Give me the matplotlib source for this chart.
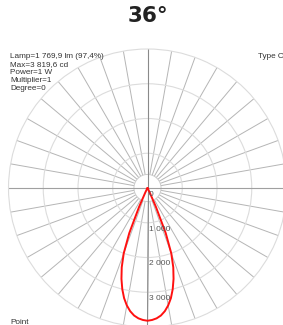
import numpy as np
import matplotlib
matplotlib.use('Agg')
import matplotlib.pyplot as plt

# intensity (cd), symmetric about nadir
angles = [0, 2, 4, 6, 8, 10, 12, 14, 16, 18, 20, 22, 24, 26, 28, 30]
intensity = [3820, 3800, 3760, 3690, 3580, 3430, 3240, 3000, 2720, 2400,
             2000, 1400, 600, 150, 40, 10]
ring_values = [1000, 2000, 3000]
ring_labels = ['0', '1 000', '2 000', '3 000']
info_lines = ['Lamp=1 769,9 lm (97,4%)', 'Max=3 819,6 cd', 'Power=1 W',
              'Multiplier=1', 'Degree=0']
r_max = 4000
hole_r = 390

W, H = 283, 325
fig = plt.figure(figsize=(W / 100, H / 100), dpi=100)

# polar plot centre (px from top-left) and radius of the 4000 cd ring
cx, cy, rad = 147.5, 188, 139
ax = fig.add_axes([(cx - rad) / W, (H - cy - rad) / H, 2 * rad / W, 2 * rad / H],
                  projection='polar')
ax.set_theta_zero_location('S')
ax.set_ylim(0, r_max)
ax.set_thetagrids(np.arange(0, 360, 10), labels=[])
ax.set_rgrids(ring_values, labels=[])
ax.xaxis.grid(True, color='#b5b5b5', lw=0.7)
ax.yaxis.grid(True, color='#dcdcdc', lw=0.8)
ax.spines['polar'].set_color('#dcdcdc')
ax.spines['polar'].set_linewidth(0.8)

# white hole in the middle covering the radial lines
th = np.linspace(0, 2 * np.pi, 200)
ax.fill(th, np.full_like(th, hole_r), facecolor='white', edgecolor='#cccccc',
        lw=0.7, zorder=2)

# main axes through the centre
for a in [0, 90, 180, 270]:
    col = '#8a8a8a' if a in (0, 180) else '#a0a0a0'
    ax.plot([np.deg2rad(a)] * 2, [0, r_max], color=col, lw=0.8, zorder=2.5)

# candela curve
ang = np.deg2rad(np.concatenate([-np.array(angles[::-1]), np.array(angles[1:])]))
val = np.concatenate([intensity[::-1], intensity[1:]])
ax.plot(ang, val, color='#ff1010', lw=1.4, zorder=3, clip_on=False)

for v, lab in zip([0] + ring_values, ring_labels):
    ax.annotate(lab, xy=(0, v), xytext=(1.0, -2.0), textcoords='offset points',
                ha='left', va='top', fontsize=6, color='#555555',
                family='Liberation Sans')

fig.text(148 / W, 1 - 15.5 / H, '36°', ha='center', va='center',
         fontsize=15.5, fontweight='bold', color='#222222', family='DejaVu Sans')

for i, line in enumerate(info_lines):
    fig.text(10 / W, 1 - (57.5 + 8.1 * i) / H, line, ha='left', va='baseline',
             fontsize=5.9, color='#333333', family='Liberation Sans')
fig.text(258 / W, 1 - 57.5 / H, 'Type C', ha='left', va='baseline',
         fontsize=5.9, color='#333333', family='Liberation Sans')
fig.text(10 / W, 1 - 323.5 / H, 'Point', ha='left', va='baseline',
         fontsize=5.9, color='#333333', family='Liberation Sans')

fig.savefig('out.png', dpi=100)
